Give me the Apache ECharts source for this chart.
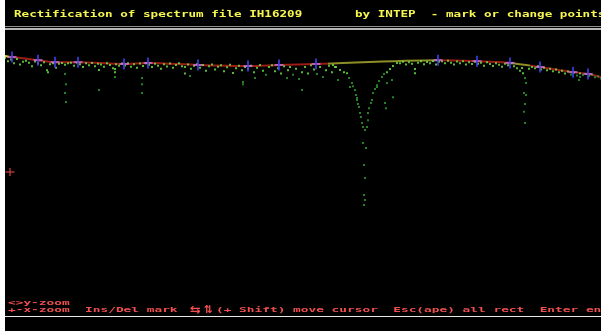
<!DOCTYPE html>
<html>
<head>
<meta charset="utf-8">
<script src="https://cdn.jsdelivr.net/npm/echarts@6/dist/echarts.min.js"></script>
<style>html,body{margin:0;padding:0;background:#fff}#c{width:601px;height:331px}</style>
</head>
<body>
<div id="c"></div>
<script>
// ---- text ----
const titleLeft = 'Rectification of spectrum file IH16209';
const titleRight = 'by INTEP  - mark or change points';
const helpLine1 = '<>y-zoom';
const helpLine2a = '+-x-zoom  Ins/Del mark';
const helpArrowH = '\u21C6';
const helpArrowV = '\u21C5';
const helpLine2b = '(+ Shift) move cursor  Esc(ape) all rect  Enter end';

// ---- spectrum data: [channel, relative flux] ----
const spectrumPoints = [
 [0,1.010],[3,0.998],[6,1.004],[9,0.990],[12,1.006],[15,0.985],[18,0.996],[21,1.000],[24,0.992],[27,0.978],[30,0.997],[33,0.990],[36,0.982],[39,0.994],[42,0.962],[43,0.955],[45,0.986],[48,0.990],[51,0.972],[54,0.988],[57,0.991],
 [60,0.984],[60,0.948],[61,0.908],[60,0.873],[61,0.838],[63,0.990],[66,0.992],[69,0.980],[72,0.993],[75,0.986],[78,0.975],[81,0.990],[84,0.982],[87,0.991],[90,0.978],[93,0.988],[94,0.963],[94,0.885],[96,0.985],[99,0.976],[102,0.990],[105,0.983],[108,0.970],[110,0.967],[110,0.955],[110,0.936],[111,0.986],[114,0.980],[117,0.989],
 [120,0.981],[123,0.990],[126,0.976],[129,0.986],[132,0.972],[135,0.989],[137,0.932],[137,0.908],[137,0.873],[138,0.979],[141,0.990],[144,0.984],[147,0.975],[150,0.988],[153,0.980],[156,0.968],[159,0.986],[162,0.977],[165,0.989],[168,0.972],[171,0.983],[174,0.990],[177,0.978],[180,0.950],[185,0.940],
 [180,0.975],[183,0.985],[186,0.968],[189,0.980],[192,0.986],[195,0.972],[198,0.983],[201,0.960],[204,0.978],[207,0.985],[210,0.965],[213,0.976],[216,0.982],[219,0.958],[222,0.974],[225,0.984],[228,0.952],[231,0.970],[234,0.980],[237,0.962],[238,0.916],[238,0.908],[240,0.975],
 [243,0.968],[246,0.980],[249,0.955],[250,0.932],[252,0.972],[255,0.983],[258,0.960],[261,0.945],[264,0.975],[267,0.982],[270,0.958],[273,0.970],[276,0.950],[279,0.978],[282,0.932],[283,0.962],[285,0.975],[288,0.945],[291,0.968],[294,0.928],[297,0.885],[297,0.955],[300,0.975],[303,0.950],[306,0.982],[309,0.965],[312,0.948],[315,0.975],[318,0.936],[321,0.962],[324,0.980],[327,0.955],[330,0.975],[333,0.924],
 [328,0.983],[331,0.975],[335,0.963],[339,0.955],[342,0.951],[344,0.932],[345,0.897],[347,0.912],[348,0.900],[350,0.885],[351,0.865],[352,0.854],[352,0.846],[353,0.830],[354,0.818],[355,0.795],[356,0.779],[357,0.756],[358,0.740],[360,0.728],
 [358,0.677],[361,0.658],[359,0.591],[360,0.540],[359,0.474],[360,0.454],[359,0.435],
 [362,0.740],[363,0.767],[363,0.795],[364,0.814],[366,0.834],[367,0.846],[368,0.873],[370,0.889],[372,0.904],[372,0.897],[374,0.920],[377,0.936],[379,0.948],[382,0.955],[385,0.967],[388,0.979],[392,0.991],[380,0.834],[381,0.814],[388,0.857],[387,0.924],[382,0.912],
 [395,0.990],[398,0.996],[401,0.985],[404,0.994],[407,0.988],[410,0.967],[410,0.951],[413,0.992],[416,0.998],[419,0.986],[422,0.995],[425,0.990],[428,0.999],[431,0.985],[434,0.996],
 [437,0.998],[440,0.990],[443,1.000],[446,0.992],[449,0.985],[452,0.997],[455,0.990],[458,0.998],[461,0.985],[464,0.994],[467,0.987],[470,0.996],[473,0.988],[476,0.992],[479,0.980],[482,0.994],[485,0.987],[488,0.979],[491,0.990],[494,0.984],[497,0.976],[500,0.988],[503,0.982],[506,0.990],
 [509,0.978],[512,0.970],[515,0.960],[517,0.971],[518,0.951],[520,0.932],[521,0.912],[519,0.873],[521,0.865],[520,0.830],[519,0.800],[520,0.756],[524,0.968],[527,0.975],[530,0.970],[533,0.978],[536,0.965],[539,0.972],[542,0.962],[545,0.968],[548,0.958],[551,0.965],[554,0.955],[557,0.960],[560,0.950],[563,0.957],[566,0.946],[569,0.954],[572,0.942],[574,0.924],[575,0.936],[575,0.950],[578,0.944],[581,0.948],[584,0.940],[587,0.945],[590,0.935],[593,0.938],[596,0.930]
];

// ---- continuum marks (knots) ----
const markChannel = [7,33,50,73,119,143,193,243,274,311,433,472,505,535,568,583];
const markFlux    = [1.014,1.002,0.994,0.994,0.987,0.991,0.983,0.979,0.983,0.987,1.002,0.998,0.991,0.975,0.955,0.948];
const contStart = [0, 1.018];
const contEnd   = [596, 0.936];

// ---- cursor ----
const cursorChannel = [5];
const cursorFlux = [0.564];

const marks = markChannel.map((c, i) => [c, markFlux[i]]);
const contData = [contStart].concat(marks, [contEnd]);
const cursorData = cursorChannel.map((c, i) => [c, cursorFlux[i]]);

const chart = echarts.init(document.getElementById('c'), null, {renderer: 'canvas'});
const FONT = 'bold 10px "DejaVu Sans Mono", "Liberation Mono", monospace';
const AFONT = 'bold 12px "DejaVu Sans", "DejaVu Sans Mono", sans-serif';
chart.setOption({
  backgroundColor: '#000',
  animation: false,
  grid: {left: 5, right: 0, top: 30, bottom: 15, show: false},
  xAxis: {type: 'value', min: 0, max: 596, show: false},
  yAxis: {type: 'value', min: 0, max: 1.12, show: false},
  visualMap: [{
    type: 'piecewise', show: false, seriesIndex: 0, dimension: 0,
    pieces: [
      {lt: 4, color: '#d8d840'},
      {gte: 4, lt: 323, color: '#9a1c14'},
      {gte: 323, lt: 433, color: '#8e8e26'},
      {gte: 433, lt: 507, color: '#9a1c14'},
      {gte: 507, lt: 525, color: '#8e8e26'},
      {gte: 525, color: '#9a1c14'}
    ]
  }, {
    type: 'piecewise', show: false, seriesIndex: 1, dimension: 1,
    pieces: [
      {gte: 0.95, color: '#6ee848'},
      {lt: 0.95, color: '#2fa02f'}
    ]
  }],
  series: [
    {type: 'line', data: contData, smooth: 0.3, showSymbol: false, lineStyle: {width: 2}, z: 2, silent: true},
    {type: 'scatter', data: spectrumPoints, symbol: 'rect', symbolSize: 2, z: 3, silent: true},
    {type: 'scatter', data: marks, symbol: 'rect', symbolSize: [9, 2], itemStyle: {color: '#c874d0'}, z: 4, silent: true},
    {type: 'scatter', data: marks, symbol: 'rect', symbolSize: [2, 11], itemStyle: {color: '#4040f0'}, z: 5, silent: true},
    {type: 'scatter', data: cursorData, symbol: 'rect', symbolSize: [9, 1.5], itemStyle: {color: '#d04444'}, z: 5, silent: true},
    {type: 'scatter', data: cursorData, symbol: 'rect', symbolSize: [1.5, 8], itemStyle: {color: '#d04444'}, z: 5, silent: true}
  ],
  graphic: [
    {type: 'rect', shape: {x: 0, y: 0, width: 5, height: 331}, style: {fill: '#fff'}, z: 10},
    {type: 'rect', shape: {x: 5, y: 26, width: 596, height: 1}, style: {fill: '#8c8c8c'}, z: 10},
    {type: 'rect', shape: {x: 5, y: 28, width: 596, height: 2}, style: {fill: '#b4b4b4'}, z: 10},
    {type: 'rect', shape: {x: 5, y: 316, width: 596, height: 1}, style: {fill: '#e8e8e8'}, z: 10},
    {type: 'text', x: 14, y: 15, scaleX: 1.26, scaleY: 0.85, style: {text: titleLeft, fill: '#f6f650', font: FONT, align: 'left', verticalAlign: 'middle'}, z: 10},
    {type: 'text', x: 355, y: 15, scaleX: 1.26, scaleY: 0.85, style: {text: titleRight, fill: '#f6f650', font: FONT, align: 'left', verticalAlign: 'middle'}, z: 10},
    {type: 'text', x: 8, y: 303, scaleX: 1.28, scaleY: 0.7, style: {text: helpLine1, fill: '#f05050', font: FONT, align: 'left', verticalAlign: 'middle'}, z: 10},
    {type: 'text', x: 8, y: 310, scaleX: 1.28, scaleY: 0.7, style: {text: helpLine2a, fill: '#f05050', font: FONT, align: 'left', verticalAlign: 'middle'}, z: 10},
    {type: 'text', x: 190, y: 310, scaleX: 1.1, scaleY: 0.9, style: {text: helpArrowH, fill: '#f05050', font: AFONT, align: 'left', verticalAlign: 'middle'}, z: 10},
    {type: 'text', x: 204, y: 310, scaleX: 0.9, scaleY: 0.9, style: {text: helpArrowV, fill: '#f05050', font: AFONT, align: 'left', verticalAlign: 'middle'}, z: 10},
    {type: 'text', x: 216, y: 310, scaleX: 1.28, scaleY: 0.7, style: {text: helpLine2b, fill: '#f05050', font: FONT, align: 'left', verticalAlign: 'middle'}, z: 10}
  ]
});
</script>
</body>
</html>
